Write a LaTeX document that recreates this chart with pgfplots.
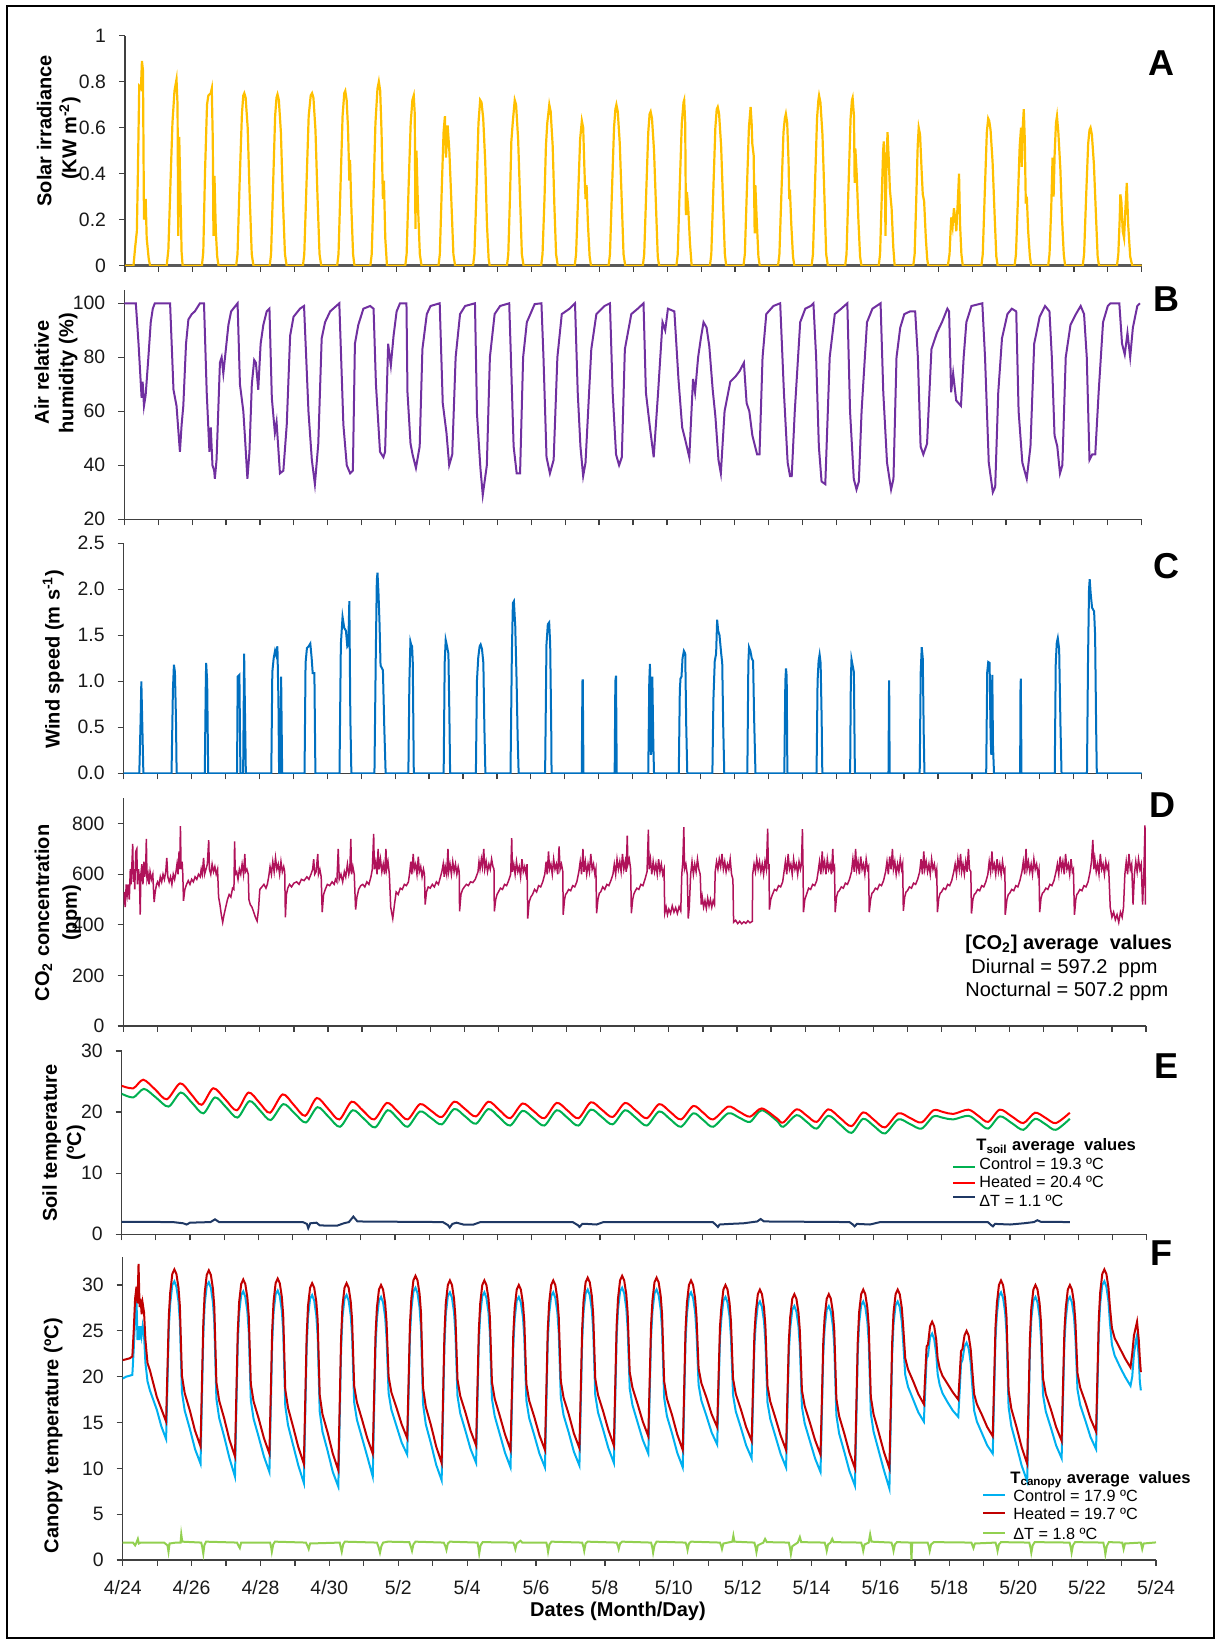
\documentclass[border=0pt]{standalone}
\usepackage{fontspec}
\setmainfont{Liberation Sans}
\usepackage{pgfplots}
\usepackage{pgfplotstable}
\pgfplotsset{compat=1.18}

\definecolor{solar}{RGB}{255,192,0}
\definecolor{rh}{RGB}{112,48,160}
\definecolor{wind}{RGB}{0,112,192}
\definecolor{cotwo}{RGB}{176,18,90}
\definecolor{ctrlsoil}{RGB}{0,176,80}
\definecolor{heatsoil}{RGB}{255,0,0}
\definecolor{dtsoil}{RGB}{31,56,100}
\definecolor{ctrlcan}{RGB}{0,176,240}
\definecolor{heatcan}{RGB}{192,0,0}
\definecolor{dtcan}{RGB}{146,208,80}

\newcommand\ticks{\fontsize{9.7}{11}\selectfont}
\newcommand\lab{\fontsize{10}{12}\selectfont\bfseries}
\newcommand\letter{\fontsize{18}{20}\selectfont\bfseries}

\pgfplotsset{
  panel/.style={
    scale only axis,
    anchor=south west,
    axis lines*=left,
    axis line style={black!75, line width=0.6pt},
    tick align=outside,
    tick style={black!75, line width=0.6pt},
    major tick length=3pt,
    minor tick length=3pt,
    xmin=0, xmax=30,
    xtick={0,1,...,30},
    xticklabels={},
    yticklabel style={font=\ticks, text=black!90, xshift=-3pt},
    xticklabel style={font=\ticks, text=black!90, yshift=-3.5pt},
    /pgf/number format/assume math mode=true,
  }
}

% canopy temperature, heated and control plots (deg C), time in days from 4/24
\pgfplotstableread{
x heated control
0.00 21.8 19.8
0.10 21.9 20.0
0.20 22.0 20.1
0.28 22.2 20.2
0.32 25.0 23.0
0.36 28.5 26.5
0.40 29.8 28.4
0.43 28.0 24.0
0.46 32.3 25.5
0.49 27.6 24.0
0.52 28.5 25.5
0.55 26.8 24.5
0.58 28.0 25.5
0.62 27.0 24.5
0.66 24.0 21.5
0.72 21.5 19.5
0.79 20.7 18.5
0.99 17.8 16.4
1.12 16.5 14.6
1.26 15.1 13.2
1.30 20.9 19.3
1.34 26.7 25.4
1.38 29.2 28.0
1.44 31.2 30.0
1.50 31.7 30.4
1.56 31.2 29.8
1.62 29.7 28.2
1.66 27.7 26.0
1.72 20.1 18.3
1.80 18.2 16.3
1.95 16.3 14.3
2.10 14.1 12.1
2.26 12.4 10.5
2.30 19.1 17.5
2.34 25.8 24.5
2.38 29.1 27.9
2.44 31.1 29.9
2.50 31.6 30.3
2.56 31.1 29.7
2.62 29.6 28.1
2.66 27.6 25.9
2.72 19.4 17.6
2.80 17.4 15.5
2.95 15.4 13.4
3.10 13.1 11.1
3.26 11.3 9.1
3.30 18.1 16.5
3.34 24.8 23.5
3.38 28.1 26.9
3.44 30.1 28.9
3.50 30.6 29.3
3.56 30.1 28.7
3.62 28.6 27.1
3.66 26.6 24.9
3.72 19.2 17.4
3.80 17.3 15.4
3.95 15.4 13.4
4.10 13.3 11.3
4.26 11.6 9.6
4.30 18.3 16.7
4.34 25.0 23.7
4.38 28.2 27.0
4.44 30.2 29.0
4.50 30.7 29.4
4.56 30.2 28.8
4.62 28.7 27.2
4.66 26.7 25.0
4.72 18.6 16.8
4.80 16.6 14.7
4.95 14.5 12.5
5.10 12.3 10.3
5.26 10.5 8.4
5.30 17.4 15.8
5.34 24.3 23.0
5.38 27.7 26.5
5.44 29.7 28.5
5.50 30.2 28.9
5.56 29.7 28.3
5.62 28.2 26.7
5.66 26.2 24.5
5.72 18.0 16.2
5.80 15.9 14.0
5.95 13.9 11.9
6.10 11.6 9.6
6.26 9.8 8.0
6.30 16.9 15.3
6.34 24.1 22.8
6.38 27.7 26.5
6.44 29.7 28.5
6.50 30.2 28.9
6.56 29.7 28.3
6.62 28.2 26.7
6.66 26.2 24.5
6.72 19.0 17.2
6.80 17.2 15.3
6.95 15.3 13.3
7.10 13.3 11.3
7.26 11.6 9.1
7.30 18.0 16.4
7.34 24.5 23.2
7.38 27.5 26.3
7.44 29.5 28.3
7.50 30.0 28.7
7.56 29.5 28.1
7.62 28.0 26.5
7.66 26.0 24.3
7.72 20.0 18.2
7.80 18.3 16.4
7.95 16.6 14.6
8.10 14.8 12.8
8.26 13.3 11.5
8.30 19.5 17.9
8.34 25.7 24.4
8.38 28.5 27.3
8.44 30.5 29.3
8.50 31.0 29.7
8.56 30.5 29.1
8.62 29.0 27.5
8.66 27.0 25.3
8.72 18.8 17.0
8.80 16.7 14.8
8.95 14.7 12.7
9.10 12.4 10.4
9.26 10.6 8.7
9.30 17.6 16.0
9.34 24.5 23.2
9.38 28.0 26.8
9.44 30.0 28.8
9.50 30.5 29.2
9.56 30.0 28.6
9.62 28.5 27.0
9.66 26.5 24.8
9.72 19.7 17.9
9.80 17.9 16.0
9.95 16.1 14.1
10.10 14.1 12.1
10.26 12.5 10.6
10.30 18.8 17.2
10.34 25.1 23.8
10.38 28.0 26.8
10.44 30.0 28.8
10.50 30.5 29.2
10.56 30.0 28.6
10.62 28.5 27.0
10.66 26.5 24.8
10.72 19.4 17.6
10.80 17.6 15.7
10.95 15.7 13.7
11.10 13.7 11.7
11.26 12.0 10.1
11.30 18.3 16.7
11.34 24.6 23.3
11.38 27.5 26.3
11.44 29.5 28.3
11.50 30.0 28.7
11.56 29.5 28.1
11.62 28.0 26.5
11.66 26.0 24.3
11.72 19.2 17.4
11.80 17.4 15.5
11.95 15.6 13.6
12.10 13.6 11.6
12.26 12.0 10.1
12.30 18.5 16.9
12.34 25.0 23.7
12.38 28.0 26.8
12.44 30.0 28.8
12.50 30.5 29.2
12.56 30.0 28.6
12.62 28.5 27.0
12.66 26.5 24.8
12.72 19.5 17.7
12.80 17.7 15.8
12.95 15.9 13.9
13.10 13.8 11.8
13.26 12.2 10.3
13.30 18.7 17.1
13.34 25.2 23.9
13.38 28.3 27.1
13.44 30.3 29.1
13.50 30.8 29.5
13.56 30.3 28.9
13.62 28.8 27.3
13.66 26.8 25.1
13.72 19.8 18.0
13.80 18.0 16.1
13.95 16.2 14.2
14.10 14.2 12.2
14.26 12.5 10.6
14.30 19.0 17.4
14.34 25.5 24.2
14.38 28.5 27.3
14.44 30.5 29.3
14.50 31.0 29.7
14.56 30.5 29.1
14.62 29.0 27.5
14.66 27.0 25.3
14.72 20.5 18.7
14.80 18.8 16.9
14.95 17.0 15.0
15.10 15.1 13.1
15.26 13.5 11.6
15.30 19.6 18.0
15.34 25.6 24.3
15.38 28.3 27.1
15.44 30.3 29.1
15.50 30.8 29.5
15.56 30.3 28.9
15.62 28.8 27.3
15.66 26.8 25.1
15.72 19.5 17.7
15.80 17.6 15.7
15.95 15.8 13.8
16.10 13.7 11.7
16.26 12.0 10.1
16.30 18.5 16.9
16.34 25.0 23.7
16.38 28.0 26.8
16.44 30.0 28.8
16.50 30.5 29.2
16.56 30.0 28.6
16.62 28.5 27.0
16.66 26.5 24.8
16.72 20.9 19.1
16.80 19.3 17.4
16.95 17.7 15.7
17.10 15.9 13.9
17.26 14.5 12.6
17.30 19.9 18.3
17.34 25.4 24.1
17.38 27.5 26.3
17.44 29.5 28.3
17.50 30.0 28.7
17.56 29.5 28.1
17.62 28.0 26.5
17.66 26.0 24.3
17.72 19.8 18.0
17.80 18.1 16.2
17.95 16.4 14.4
18.10 14.5 12.5
18.26 13.0 11.1
18.30 18.8 17.2
18.34 24.6 23.3
18.38 27.0 25.8
18.44 29.0 27.8
18.50 29.5 28.2
18.56 29.0 27.6
18.62 27.5 26.0
18.66 25.5 23.8
18.72 19.0 17.2
18.80 17.3 15.4
18.95 15.5 13.5
19.10 13.6 11.6
19.26 12.0 10.1
19.30 18.0 16.4
19.34 23.9 22.6
19.38 26.5 25.3
19.44 28.5 27.3
19.50 29.0 27.7
19.56 28.5 27.1
19.62 27.0 25.5
19.66 25.0 23.3
19.72 18.5 16.7
19.80 16.8 14.9
19.95 15.0 13.0
20.10 13.1 11.1
20.26 11.5 9.6
20.30 17.6 16.0
20.34 23.8 22.5
20.38 26.5 25.3
20.44 28.5 27.3
20.50 29.0 27.7
20.56 28.5 27.1
20.62 27.0 25.5
20.66 25.0 23.3
20.72 17.6 15.8
20.80 15.7 13.8
20.95 13.8 11.8
21.10 11.7 9.7
21.26 10.0 8.1
21.30 16.8 15.2
21.34 23.7 22.4
21.38 27.0 25.8
21.44 29.0 27.8
21.50 29.5 28.2
21.56 29.0 27.6
21.62 27.5 26.0
21.66 25.5 23.8
21.72 17.8 16.0
21.80 15.9 14.0
21.95 13.9 11.9
22.10 11.8 9.8
22.26 10.0 7.8
22.30 16.8 15.2
22.34 23.7 22.4
22.38 27.0 25.8
22.44 29.0 27.8
22.50 29.5 28.2
22.56 29.0 27.6
22.62 27.5 26.0
22.66 25.5 23.8
22.72 22.0 20.2
22.80 20.8 18.9
22.95 19.5 17.5
23.10 18.1 16.1
23.26 17.0 15.1
23.30 20.2 18.6
23.34 23.3 22.0
23.38 23.5 22.3
23.44 25.5 24.3
23.50 26.0 24.7
23.56 25.5 24.1
23.62 24.0 22.5
23.66 22.0 20.3
23.72 20.9 19.1
23.80 20.1 18.2
23.95 19.2 17.2
24.10 18.3 16.3
24.26 17.5 15.6
24.30 20.1 18.5
24.34 22.8 21.5
24.38 23.0 21.8
24.44 24.5 23.3
24.50 25.0 23.7
24.56 24.5 23.1
24.62 23.0 21.5
24.66 21.0 19.3
24.72 18.1 16.3
24.80 17.0 15.1
24.95 15.8 13.8
25.10 14.5 12.5
25.26 13.5 11.6
25.30 19.5 17.9
25.34 25.4 24.1
25.38 28.0 26.8
25.44 30.0 28.8
25.50 30.5 29.2
25.56 30.0 28.6
25.62 28.5 27.0
25.66 26.5 24.8
25.72 18.5 16.7
25.80 16.5 14.6
25.95 14.5 12.5
26.10 12.3 10.3
26.26 10.5 8.6
26.30 17.3 15.7
26.34 24.2 22.9
26.38 27.5 26.3
26.44 29.5 28.3
26.50 30.0 28.7
26.56 29.5 28.1
26.62 28.0 26.5
26.66 26.0 24.3
26.72 19.8 18.0
26.80 18.1 16.2
26.95 16.4 14.4
27.10 14.5 12.5
27.26 13.0 11.1
27.30 19.0 17.4
27.34 24.9 23.6
27.38 27.5 26.3
27.44 29.5 28.3
27.50 30.0 28.7
27.56 29.5 28.1
27.62 28.0 26.5
27.66 26.0 24.3
27.72 20.4 18.6
27.80 18.8 16.9
27.95 17.2 15.2
28.10 15.4 13.4
28.26 14.0 12.1
28.30 20.2 18.6
28.34 26.4 25.1
28.38 29.2 28.0
28.44 31.2 30.0
28.50 31.7 30.4
28.56 31.2 29.8
28.62 29.7 28.2
28.66 27.7 26.0
28.72 25.3 23.5
28.80 24.2 22.3
28.95 23.1 21.1
29.10 22.0 20.0
29.26 21.0 19.0
29.31 22.5 20.0
29.36 24.5 22.5
29.42 25.5 24.0
29.45 26.0 24.5
29.50 24.0 22.0
29.53 22.0 19.5
29.56 20.5 18.5
}\canopy

\begin{document}
\begin{tikzpicture}[x=1pt,y=1pt]
\path[use as bounding box] (0,0) rectangle (610,821.5);
\draw[line width=1pt] (3.65,818.65) rectangle (607,2.5);

% ---------------- A: solar irradiance
\begin{axis}[panel, at={(62.5pt,688.65pt)}, width=508.35pt, height=115pt,
  ymin=0, ymax=1, ytick={0,0.2,0.4,0.6,0.8,1},
  x axis line style={black!65, line width=1.3pt}]
\addplot[solar, line width=1.1pt] coordinates {
(0,0)(0.25,0)(0.30,0.08)(0.35,0.15)(0.38,0.40)(0.42,0.78)(0.47,0.77)(0.50,0.89)(0.53,0.85)(0.56,0.20)(0.61,0.29)(0.64,0.12)(0.70,0.03)(0.74,0)
(1.23,0)(1.28,0.07)(1.34,0.35)(1.40,0.62)(1.46,0.76)(1.52,0.81)(1.55,0.70)(1.57,0.13)(1.60,0.56)(1.63,0.35)(1.67,0.06)(1.70,0)
(2.27,0)(2.31,0.06)(2.36,0.40)(2.42,0.70)(2.46,0.74)(2.53,0.75)(2.56,0.77)(2.59,0.55)(2.61,0.13)(2.64,0.39)(2.68,0.15)(2.72,0.04)(2.76,0)
(3.28,0)(3.32,0.05)(3.38,0.35)(3.45,0.66)(3.49,0.74)(3.52,0.75)(3.56,0.73)(3.62,0.60)(3.68,0.30)(3.74,0.05)(3.79,0)
(4.27,0)(4.31,0.05)(4.37,0.35)(4.43,0.65)(4.47,0.73)(4.50,0.745)(4.54,0.72)(4.60,0.58)(4.66,0.28)(4.72,0.05)(4.77,0)
(5.25,0)(5.29,0.05)(5.35,0.33)(5.42,0.65)(5.48,0.74)(5.52,0.75)(5.56,0.73)(5.62,0.59)(5.68,0.30)(5.74,0.05)(5.79,0)
(6.26,0)(6.30,0.05)(6.36,0.35)(6.42,0.65)(6.47,0.75)(6.50,0.76)(6.54,0.72)(6.58,0.60)(6.62,0.37)(6.64,0.46)(6.68,0.25)(6.73,0.05)(6.77,0)
(7.24,0)(7.28,0.05)(7.33,0.30)(7.39,0.62)(7.45,0.77)(7.49,0.80)(7.53,0.76)(7.57,0.58)(7.61,0.29)(7.64,0.37)(7.68,0.12)(7.73,0)
(8.27,0)(8.31,0.05)(8.37,0.35)(8.43,0.62)(8.48,0.72)(8.52,0.74)(8.55,0.66)(8.57,0.16)(8.60,0.50)(8.64,0.28)(8.70,0.05)(8.75,0)
(9.25,0)(9.29,0.05)(9.35,0.35)(9.40,0.58)(9.44,0.65)(9.47,0.47)(9.52,0.61)(9.57,0.50)(9.63,0.28)(9.69,0.05)(9.74,0)
(10.27,0)(10.31,0.05)(10.37,0.32)(10.43,0.62)(10.48,0.72)(10.52,0.71)(10.57,0.64)(10.63,0.45)(10.68,0.18)(10.73,0.03)(10.76,0)
(11.27,0)(11.31,0.05)(11.36,0.30)(11.40,0.54)(11.44,0.62)(11.50,0.72)(11.54,0.70)(11.60,0.55)(11.66,0.28)(11.71,0.05)(11.76,0)
(12.28,0)(12.32,0.05)(12.38,0.30)(12.42,0.52)(12.46,0.62)(12.52,0.70)(12.56,0.67)(12.62,0.52)(12.67,0.26)(12.72,0.05)(12.77,0)
(13.27,0)(13.31,0.05)(13.37,0.30)(13.43,0.55)(13.48,0.63)(13.52,0.60)(13.55,0.45)(13.57,0.36)(13.59,0.29)(13.62,0.35)(13.66,0.18)(13.71,0.04)(13.75,0)
(14.27,0)(14.31,0.05)(14.37,0.33)(14.43,0.60)(14.47,0.68)(14.50,0.70)(14.54,0.67)(14.60,0.53)(14.66,0.27)(14.71,0.05)(14.76,0)
(15.28,0)(15.32,0.05)(15.38,0.32)(15.44,0.58)(15.48,0.66)(15.51,0.67)(15.55,0.64)(15.61,0.50)(15.67,0.25)(15.72,0.04)(15.76,0)
(16.27,0)(16.31,0.05)(16.37,0.35)(16.43,0.62)(16.48,0.71)(16.50,0.72)(16.53,0.62)(16.55,0.22)(16.58,0.32)(16.62,0.25)(16.67,0.10)(16.72,0)
(17.26,0)(17.30,0.05)(17.36,0.33)(17.42,0.60)(17.46,0.68)(17.49,0.69)(17.53,0.66)(17.59,0.52)(17.65,0.26)(17.70,0.05)(17.74,0)
(18.25,0)(18.29,0.05)(18.35,0.33)(18.41,0.60)(18.46,0.69)(18.49,0.62)(18.51,0.53)(18.55,0.48)(18.58,0.14)(18.60,0.35)(18.64,0.20)(18.69,0.04)(18.73,0)
(19.27,0)(19.31,0.05)(19.37,0.32)(19.43,0.58)(19.47,0.64)(19.50,0.66)(19.54,0.62)(19.58,0.45)(19.60,0.29)(19.62,0.33)(19.66,0.18)(19.71,0.04)(19.75,0)
(20.26,0)(20.30,0.05)(20.36,0.35)(20.42,0.64)(20.46,0.72)(20.48,0.74)(20.52,0.71)(20.58,0.57)(20.64,0.29)(20.69,0.05)(20.74,0)
(21.25,0)(21.29,0.05)(21.35,0.35)(21.41,0.64)(21.45,0.72)(21.47,0.73)(21.51,0.65)(21.53,0.36)(21.55,0.51)(21.59,0.40)(21.64,0.20)(21.69,0.04)(21.73,0)
(22.24,0)(22.28,0.05)(22.33,0.30)(22.37,0.50)(22.39,0.54)(22.42,0.40)(22.44,0.13)(22.47,0.45)(22.50,0.58)(22.54,0.45)(22.57,0.33)(22.62,0.25)(22.67,0.08)(22.71,0)
(23.26,0)(23.30,0.05)(23.35,0.30)(23.39,0.52)(23.42,0.60)(23.46,0.57)(23.51,0.40)(23.54,0.31)(23.58,0.28)(23.63,0.12)(23.67,0.03)(23.70,0)
(24.28,0)(24.33,0.05)(24.36,0.15)(24.38,0.21)(24.42,0.17)(24.46,0.25)(24.50,0.20)(24.53,0.15)(24.58,0.30)(24.61,0.40)(24.64,0.18)(24.68,0.05)(24.72,0)
(25.27,0)(25.31,0.05)(25.37,0.32)(25.43,0.58)(25.47,0.64)(25.50,0.63)(25.54,0.59)(25.60,0.45)(25.66,0.22)(25.71,0.04)(25.75,0)
(26.25,0)(26.29,0.05)(26.35,0.30)(26.40,0.52)(26.44,0.60)(26.46,0.43)(26.49,0.60)(26.52,0.68)(26.55,0.55)(26.58,0.27)(26.61,0.30)(26.65,0.15)(26.70,0.04)(26.74,0)
(27.24,0)(27.28,0.05)(27.33,0.25)(27.37,0.47)(27.40,0.30)(27.43,0.48)(27.47,0.62)(27.50,0.65)(27.54,0.58)(27.60,0.42)(27.65,0.20)(27.70,0.05)(27.74,0)
(28.26,0)(28.30,0.05)(28.36,0.30)(28.42,0.53)(28.46,0.59)(28.49,0.60)(28.53,0.57)(28.59,0.44)(28.65,0.22)(28.70,0.04)(28.74,0)
(29.27,0)(29.31,0.05)(29.35,0.20)(29.37,0.31)(29.40,0.28)(29.44,0.15)(29.48,0.12)(29.52,0.25)(29.56,0.36)(29.60,0.18)(29.66,0.04)(29.72,0)(30,0)
};
\end{axis}

% ---------------- B: air relative humidity
\begin{axis}[panel, at={(62.15pt,561.85pt)}, width=508.7pt, height=114.75pt,
  ymin=20, ymax=105, ytick={20,40,60,80,100}]
\addplot[rh, line width=1pt] coordinates {
(0,100)(0.34,100)(0.42,85)(0.51,65)(0.54,71)(0.58,62)(0.63,66)(0.71,80)(0.78,93)(0.84,98)(0.90,100)(1.35,100)
(1.45,68)(1.54,62)(1.64,45)(1.69,55)(1.74,62)(1.82,85)(1.89,94)(1.99,96)(2.08,97)(2.18,99)(2.23,100)(2.35,100)
(2.43,67)(2.51,45)(2.55,54)(2.60,40)(2.65,38)(2.67,35)(2.72,42)(2.77,60)(2.82,78)(2.87,80)(2.92,74)(2.97,80)(3.07,92)(3.15,97)(3.34,100)
(3.41,70)(3.51,60)(3.56,50)(3.63,35)(3.69,45)(3.76,70)(3.83,79)(3.88,78)(3.95,68)(4.02,85)(4.10,92)(4.20,97)(4.28,98)
(4.35,65)(4.44,52)(4.49,56)(4.59,37)(4.69,38)(4.79,55)(4.89,88)(4.99,95)(5.18,98)(5.30,99)
(5.43,60)(5.53,42)(5.62,33)(5.72,48)(5.82,87)(5.92,93)(6.07,97)(6.34,100)
(6.46,55)(6.56,40)(6.66,37)(6.74,38)(6.80,85)(6.90,92)(7.05,98)(7.25,99)(7.35,98)
(7.42,70)(7.54,45)(7.64,43)(7.69,45)(7.78,85)(7.86,77)(7.94,88)(8.03,97)(8.13,100)(8.32,100)
(8.35,67)(8.44,48)(8.50,44)(8.60,39)(8.71,47)(8.79,83)(8.92,96)(9.03,99)(9.30,100)
(9.39,63)(9.50,52)(9.58,40)(9.67,44)(9.77,80)(9.90,96)(10.05,99)(10.34,100)
(10.40,59)(10.50,39)(10.57,29)(10.69,40)(10.78,80)(10.92,96)(11.08,99)(11.35,100)
(11.40,80)(11.48,47)(11.57,37)(11.67,37)(11.76,80)(11.87,93)(12.10,99.7)(12.30,100)
(12.36,80)(12.45,43)(12.55,37)(12.66,42)(12.77,80)(12.90,96)(13.13,98)(13.29,100)
(13.37,67)(13.45,47)(13.53,36)(13.60,41)(13.77,83)(13.92,96)(14.16,99)(14.32,100)
(14.40,67)(14.50,44)(14.59,40)(14.67,43)(14.76,83)(14.95,96)(15.14,98)(15.31,100)
(15.38,67)(15.50,54)(15.61,43)(15.74,67)(15.87,93)(15.95,90)(16.03,98)(16.22,97)
(16.34,72)(16.45,54)(16.53,50)(16.66,43)(16.77,72)(16.83,67)(16.92,80)(17.00,87)(17.08,93)(17.17,91)(17.25,84)
(17.35,68)(17.43,58)(17.52,42)(17.59,37)(17.70,60)(17.87,71)(18.03,73)(18.15,75)(18.27,78)
(18.35,63)(18.43,60)(18.52,51)(18.66,44)(18.73,44)(18.82,80)(18.93,96)(19.14,99)(19.34,100)
(19.45,67)(19.56,41)(19.63,36)(19.68,36)(19.77,60)(19.93,93)(20.08,98)(20.24,99)(20.32,100)
(20.40,80)(20.48,47)(20.56,34)(20.67,33)(20.80,80)(20.95,96)(21.14,98)(21.32,100)
(21.40,60)(21.51,35)(21.59,31)(21.66,34)(21.74,60)(21.90,93)(22.06,98)(22.30,100)
(22.38,67)(22.49,41)(22.61,31)(22.68,35)(22.77,80)(22.88,91)(23.00,96)(23.17,97)(23.32,97)
(23.40,80)(23.48,47)(23.56,44)(23.67,48)(23.80,83)(23.96,89)(24.11,93)(24.27,98)(24.32,97)
(24.38,67)(24.44,74)(24.53,64)(24.67,62)(24.75,80)(24.83,93)(24.98,99)(25.30,100)
(25.38,80)(25.49,41)(25.61,30)(25.68,32)(25.77,67)(25.88,87)(26.04,96)(26.17,98)(26.30,97)
(26.37,60)(26.48,41)(26.61,35)(26.72,47)(26.83,85)(26.99,95)(27.15,99)(27.28,97)
(27.35,80)(27.43,51)(27.51,47)(27.59,37)(27.66,40)(27.76,80)(27.90,92)(28.06,96)(28.20,99)(28.30,96)
(28.38,80)(28.46,42)(28.54,44)(28.63,44)(28.73,67)(28.86,93)(29.00,99)(29.08,100)(29.34,100)
(29.42,85)(29.50,81)(29.58,89)(29.66,80)(29.74,91)(29.87,99)(29.95,100)
};
\end{axis}

% ---------------- C: wind speed
\begin{axis}[panel, at={(61.85pt,434.85pt)}, width=508.95pt, height=115pt,
  ymin=0, ymax=2.5, ytick={0,0.5,1,1.5,2,2.5},
  yticklabel style={/pgf/number format/.cd, fixed, fixed zerofill, precision=1}]
\addplot[wind, line width=1pt] coordinates {
(0,0)(0.46,0)(0.50,0.6)(0.52,1.0)(0.55,0.5)(0.58,0)
(1.41,0)(1.45,0.9)(1.48,1.18)(1.51,1.1)(1.54,0.6)(1.56,0)
(2.39,0)(2.42,1.0)(2.43,1.20)(2.46,1.0)(2.49,0)
(3.34,0)(3.36,1.05)(3.41,1.07)(3.44,0)(3.52,0)(3.55,1.30)(3.60,0)
(4.35,0)(4.38,1.1)(4.42,1.25)(4.46,1.33)(4.49,1.29)(4.53,1.38)(4.56,0.8)(4.58,0)(4.62,0)(4.64,1.05)(4.67,0)
(5.33,0)(5.36,1.2)(5.40,1.36)(5.45,1.38)(5.50,1.41)(5.54,1.25)(5.57,1.09)(5.62,1.09)(5.65,0)
(6.36,0)(6.40,1.4)(6.45,1.70)(6.50,1.58)(6.55,1.55)(6.59,1.38)(6.62,1.40)(6.65,1.87)(6.68,0.6)(6.71,0)
(7.39,0)(7.43,1.3)(7.46,2.10)(7.48,2.18)(7.51,1.95)(7.54,1.63)(7.57,1.17)(7.60,1.15)(7.64,1.12)(7.68,0.5)(7.72,0)
(8.39,0)(8.42,1.0)(8.45,1.43)(8.47,1.40)(8.50,1.38)(8.52,1.2)(8.55,0)
(9.43,0)(9.46,1.2)(9.49,1.45)(9.53,1.38)(9.57,1.30)(9.60,0.6)(9.62,0)
(10.38,0)(10.41,1.0)(10.45,1.26)(10.49,1.38)(10.52,1.40)(10.56,1.35)(10.60,1.2)(10.63,0.5)(10.66,0)
(11.40,0)(11.44,1.3)(11.47,1.85)(11.50,1.87)(11.54,1.6)(11.58,1.0)(11.61,0.4)(11.64,0)
(12.42,0)(12.46,1.4)(12.50,1.62)(12.54,1.64)(12.57,1.4)(12.60,0.5)(12.61,0)
(13.50,0)(13.52,1.0)(13.53,1.02)(13.55,0)
(14.47,0)(14.49,1.0)(14.51,1.06)(14.53,0)
(15.46,0)(15.49,1.0)(15.51,1.19)(15.54,0.2)(15.56,0.5)(15.58,1.05)(15.61,0.3)(15.63,0)
(16.36,0)(16.39,0.9)(16.41,1.03)(16.44,1.05)(16.47,1.25)(16.51,1.33)(16.55,1.3)(16.58,0.5)(16.61,0)
(17.35,0)(17.38,0.8)(17.42,1.22)(17.46,1.30)(17.49,1.67)(17.52,1.55)(17.56,1.50)(17.61,1.30)(17.64,1.20)(17.67,0.5)(17.70,0)
(18.38,0)(18.41,1.2)(18.43,1.37)(18.47,1.33)(18.51,1.25)(18.55,1.22)(18.58,0.6)(18.62,0)
(19.47,0)(19.50,1.0)(19.52,1.14)(19.54,1.05)(19.56,0)
(20.42,0)(20.45,1.0)(20.48,1.22)(20.51,1.29)(20.54,1.2)(20.57,0.6)(20.59,0)
(21.41,0)(21.43,1.0)(21.45,1.24)(21.48,1.18)(21.52,1.10)(21.55,0)
(22.54,0)(22.555,0.9)(22.56,1.01)(22.575,0)
(23.46,0)(23.49,1.1)(23.52,1.37)(23.55,1.25)(23.58,0.4)(23.60,0)
(25.42,0)(25.45,1.1)(25.48,1.21)(25.52,1.20)(25.55,0.4)(25.57,0.2)(25.60,1.07)(25.62,0.3)(25.65,0)
(26.42,0)(26.43,0.9)(26.44,1.03)(26.46,0)
(27.44,0)(27.47,1.2)(27.50,1.42)(27.53,1.47)(27.57,1.35)(27.61,0.5)(27.64,0)
(28.39,0)(28.42,1.2)(28.45,2.0)(28.47,2.11)(28.50,1.95)(28.54,1.80)(28.60,1.76)(28.63,1.5)(28.66,0.5)(28.68,0)(30,0)
};
\end{axis}

% ---------------- D: CO2 concentration
\begin{axis}[panel, at={(61.75pt,308.5pt)}, width=511.25pt, height=113.8pt,
  ymin=0, ymax=900, ytick={0,200,400,600,800}]
\addplot[cotwo, line width=0.75pt] coordinates {
(0.00,480)(0.03,530)(0.05,470)(0.08,560)(0.11,520)(0.14,560)(0.17,500)(0.20,620)(0.22,560)(0.25,650)(0.27,720)(0.29,570)(0.31,620)(0.33,540)(0.36,690)(0.39,700)(0.41,560)(0.44,620)(0.47,580)(0.49,440)(0.51,600)(0.54,640)(0.57,560)(0.60,650)(0.62,590)(0.65,620)(0.67,740)(0.69,580)(0.72,600)(0.75,560)(0.78,610)(0.82,580)(0.86,600)
(0.88,540)(0.90,490)(0.93,530)(0.97,560)(1.00,570)(1.04,555)(1.08,590)(1.12,570)(1.16,600)(1.20,580)(1.24,610)(1.27,665)(1.30,590)(1.34,570)(1.38,590)(1.42,560)(1.46,600)(1.50,580)(1.54,610)(1.57,640)(1.60,600)(1.63,690)(1.65,620)(1.67,790)(1.69,620)(1.72,650)(1.74,600)
(1.76,495)(1.80,540)(1.85,560)(1.90,575)(1.95,560)(2.00,580)(2.05,570)(2.10,590)(2.15,580)(2.20,600)(2.25,590)(2.28,620)(2.31,600)(2.35,665)(2.38,600)(2.42,620)(2.46,640)(2.50,735)(2.52,620)(2.56,600)(2.60,640)(2.64,610)(2.68,630)(2.72,600)(2.76,620)
(2.79,510)(2.83,480)(2.87,440)(2.91,410)(2.95,440)(3.00,470)(3.05,500)(3.10,520)(3.15,510)(3.20,545)(3.24,540)(3.26,730)(3.28,600)(3.32,610)(3.36,580)(3.40,620)(3.44,600)(3.48,640)(3.52,600)(3.56,680)(3.58,610)(3.62,620)(3.66,600)
(3.68,500)(3.72,480)(3.77,470)(3.82,450)(3.87,430)(3.92,415)(3.96,460)(4.00,540)(4.06,550)(4.12,560)(4.18,545)(4.22,560)(4.26,590)(4.30,630)(4.34,600)(4.38,650)(4.42,610)(4.46,665)(4.50,620)(4.54,640)(4.58,600)(4.62,650)(4.66,610)(4.70,630)(4.73,610)
(4.75,430)(4.78,520)(4.82,545)(4.87,560)(4.93,550)(5.00,565)(5.08,570)(5.15,560)(5.22,580)(5.30,575)(5.38,590)(5.44,580)(5.50,600)(5.55,620)(5.58,660)(5.61,600)(5.65,610)(5.70,680)(5.72,600)(5.76,620)(5.80,590)
(5.83,450)(5.87,520)(5.92,540)(5.98,560)(6.05,555)(6.12,570)(6.18,560)(6.22,580)(6.26,570)(6.30,700)(6.33,580)(6.38,600)(6.43,570)(6.48,610)(6.52,590)(6.57,640)(6.61,600)(6.64,620)(6.67,740)(6.69,600)(6.73,630)(6.77,600)
(6.81,460)(6.85,510)(6.90,540)(6.96,555)(7.02,560)(7.08,550)(7.14,570)(7.20,560)(7.26,590)(7.30,620)(7.34,760)(7.36,620)(7.40,650)(7.44,600)(7.47,700)(7.50,620)(7.54,660)(7.58,610)(7.62,640)(7.66,600)(7.70,700)(7.72,620)(7.76,650)(7.80,600)
(7.84,470)(7.90,425)(7.95,480)(8.00,530)(8.06,520)(8.12,545)(8.18,540)(8.24,560)(8.30,555)(8.36,570)
(8.40,610)(8.43,650)(8.46,600)(8.50,680)(8.53,620)(8.57,640)(8.61,600)(8.65,670)(8.68,610)(8.72,630)(8.76,590)(8.80,620)(8.83,600)(8.85,480)(8.89,530)(8.94,550)
(9.00,545)(9.06,560)(9.12,550)(9.18,570)(9.24,560)(9.30,590)(9.34,610)(9.38,640)(9.41,590)(9.44,630)(9.48,600)(9.52,700)(9.54,610)(9.58,640)(9.62,600)(9.66,650)(9.70,610)(9.74,640)(9.78,600)(9.82,630)(9.85,610)(9.86,453)(9.90,520)(9.95,540)
(10.00,550)(10.06,560)(10.12,555)(10.18,570)(10.25,567)(10.32,580)(10.40,609)(10.43,650)(10.46,620)(10.50,660)(10.53,630)(10.57,700)(10.60,620)(10.64,650)(10.68,610)(10.72,640)(10.76,620)(10.80,660)(10.84,630)(10.87,620)(10.88,453)(10.92,500)(10.96,520)
(11.00,530)(11.06,545)(11.12,540)(11.18,560)(11.24,555)(11.30,575)(11.36,600)(11.39,743)(11.41,610)(11.45,640)(11.49,600)(11.53,650)(11.57,610)(11.61,630)(11.65,590)(11.69,660)(11.73,610)(11.77,630)(11.81,600)(11.84,640)(11.86,425)(11.90,490)(11.95,510)
(12.00,520)(12.06,540)(12.12,530)(12.18,555)(12.24,550)(12.30,570)(12.36,600)(12.40,650)(12.43,600)(12.47,690)(12.50,620)(12.54,640)(12.58,600)(12.62,660)(12.66,620)(12.70,640)(12.74,600)(12.78,710)(12.81,620)(12.85,640)(12.89,610)(12.90,440)(12.94,500)(12.97,520)
(13.00,525)(13.06,540)(13.12,535)(13.18,555)(13.24,550)(13.30,570)(13.36,610)(13.40,650)(13.44,600)(13.48,700)(13.51,610)(13.55,650)(13.59,600)(13.63,640)(13.67,610)(13.71,680)(13.75,620)(13.79,640)(13.83,600)(13.86,620)(13.88,446)(13.92,500)(13.96,525)
(14.00,530)(14.06,550)(14.12,540)(14.18,560)(14.24,555)(14.30,575)(14.36,600)(14.40,640)(14.44,600)(14.48,660)(14.52,620)(14.56,650)(14.60,610)(14.64,680)(14.68,620)(14.72,650)(14.75,610)(14.78,753)(14.80,640)(14.84,660)(14.88,620)(14.90,446)(14.94,500)(14.97,520)
(15.00,530)(15.06,545)(15.12,540)(15.18,560)(15.24,555)(15.30,580)(15.36,610)(15.40,776)(15.42,620)(15.46,660)(15.50,600)(15.54,650)(15.58,610)(15.62,640)(15.66,600)(15.70,660)(15.74,610)(15.78,640)(15.82,600)(15.86,620)(15.88,446)(15.92,470)(15.96,440)(16.00,462)(16.05,445)(16.10,475)(16.15,450)(16.20,468)(16.25,445)(16.30,472)(16.35,455)
(16.38,600)(16.41,650)(16.44,786)(16.46,620)(16.50,640)(16.54,600)(16.57,425)(16.60,470)(16.64,600)(16.68,650)(16.72,600)(16.76,640)(16.80,610)(16.84,660)(16.88,620)(16.92,600)(16.95,480)(16.98,510)(17.02,470)(17.06,495)(17.10,465)(17.14,505)(17.18,475)(17.22,500)(17.26,470)(17.30,495)(17.34,480)
(17.36,610)(17.40,650)(17.44,620)(17.48,660)(17.52,630)(17.56,680)(17.60,620)(17.64,650)(17.68,610)(17.72,640)(17.76,620)(17.80,660)(17.84,600)(17.88,580)(17.90,410)(17.96,418)(18.02,405)(18.08,414)(18.14,404)(18.20,412)(18.26,406)(18.32,416)(18.38,408)(18.45,414)
(18.46,600)(18.50,640)(18.54,610)(18.58,660)(18.62,620)(18.66,650)(18.70,610)(18.74,640)(18.78,600)(18.82,650)(18.86,620)(18.90,780)(18.92,620)(18.94,640)(18.95,460)(18.99,500)
(19.04,520)(19.10,540)(19.16,535)(19.22,555)(19.28,550)(19.34,570)(19.38,610)(19.42,650)(19.46,600)(19.50,680)(19.54,620)(19.58,640)(19.62,600)(19.66,660)(19.70,620)(19.74,640)(19.78,600)(19.82,650)(19.86,620)(19.89,640)(19.92,778)(19.94,600)(19.95,450)(19.99,500)
(20.04,520)(20.10,545)(20.16,540)(20.22,560)(20.28,555)(20.34,575)(20.38,610)(20.42,650)(20.46,600)(20.50,690)(20.53,620)(20.57,650)(20.61,600)(20.65,660)(20.69,620)(20.73,640)(20.77,600)(20.81,700)(20.83,620)(20.86,630)(20.88,450)(20.92,510)(20.96,530)
(21.00,535)(21.06,550)(21.12,545)(21.18,565)(21.24,560)(21.30,580)(21.36,610)(21.40,660)(21.44,610)(21.48,700)(21.51,620)(21.55,650)(21.59,600)(21.63,670)(21.67,620)(21.71,640)(21.75,600)(21.79,660)(21.83,620)(21.86,630)(21.88,450)(21.92,500)(21.96,525)
(22.00,530)(22.06,545)(22.12,540)(22.18,560)(22.24,555)(22.30,575)(22.36,610)(22.40,650)(22.44,600)(22.48,670)(22.52,620)(22.56,700)(22.59,620)(22.63,650)(22.67,600)(22.71,640)(22.75,610)(22.79,660)(22.83,620)(22.86,640)(22.88,455)(22.92,510)(22.96,530)
(23.00,535)(23.06,550)(23.12,545)(23.18,565)(23.24,560)(23.30,580)(23.36,610)(23.40,660)(23.44,600)(23.48,690)(23.51,620)(23.55,650)(23.59,610)(23.63,640)(23.67,600)(23.71,660)(23.75,620)(23.79,640)(23.83,600)(23.86,620)(23.88,450)(23.92,505)(23.96,525)
(24.00,530)(24.06,545)(24.12,540)(24.18,560)(24.24,555)(24.30,575)(24.36,610)(24.40,640)(24.44,600)(24.48,660)(24.52,620)(24.56,680)(24.59,610)(24.63,640)(24.67,600)(24.71,650)(24.75,610)(24.79,700)(24.82,620)(24.86,610)(24.88,445)(24.92,500)(24.96,520)
(25.00,525)(25.06,540)(25.12,535)(25.18,555)(25.24,550)(25.30,570)(25.36,600)(25.40,650)(25.44,610)(25.48,690)(25.51,620)(25.55,640)(25.59,600)(25.63,660)(25.67,610)(25.71,640)(25.75,600)(25.79,650)(25.83,610)(25.86,620)(25.87,440)(25.92,500)(25.96,520)
(26.00,525)(26.06,540)(26.12,535)(26.18,555)(26.24,550)(26.30,575)(26.36,610)(26.40,650)(26.44,600)(26.48,700)(26.51,620)(26.55,650)(26.59,610)(26.63,640)(26.67,600)(26.71,660)(26.75,620)(26.79,640)(26.83,600)(26.86,620)(26.88,450)(26.92,505)(26.96,525)
(27.00,530)(27.06,545)(27.12,540)(27.18,560)(27.24,555)(27.30,575)(27.36,610)(27.40,640)(27.44,600)(27.48,670)(27.52,620)(27.56,650)(27.60,600)(27.64,680)(27.68,620)(27.72,640)(27.76,600)(27.80,660)(27.84,610)(27.87,620)(27.90,440)(27.94,500)(27.97,520)
(28.00,525)(28.06,540)(28.12,535)(28.18,555)(28.24,550)(28.30,570)(28.36,610)(28.40,650)(28.44,736)(28.47,620)(28.50,660)(28.54,610)(28.58,640)(28.62,600)(28.66,680)(28.70,620)(28.74,640)(28.78,600)(28.82,650)(28.86,620)(28.90,640)(28.95,470)(29.00,430)(29.05,450)(29.10,420)(29.15,440)(29.20,410)(29.25,450)(29.30,430)
(29.34,470)(29.38,600)(29.42,650)(29.46,600)(29.50,680)(29.54,620)(29.58,640)(29.62,480)(29.66,600)(29.70,650)(29.74,610)(29.78,660)(29.82,620)(29.86,640)(29.90,480)(29.94,620)(29.97,793)(29.98,480)(30.00,590)
};
\end{axis}

% ---------------- E: soil temperature
\begin{axis}[panel, at={(60.85pt,204.35pt)}, width=512.5pt, height=91.65pt,
  ymin=0, ymax=30, ytick={0,10,20,30}]
\addplot[ctrlsoil, line width=1pt, smooth, tension=0.5] coordinates {
(0,23.0)(0.34,22.4)(0.65,23.8)(1.01,22.35)(1.37,20.9)(1.73,23.2)(2.06,21.5)(2.39,19.8)(2.73,22.4)(3.06,20.75)(3.39,19.1)(3.74,21.8)(4.05,20.25)(4.36,18.7)(4.73,21.3)(5.06,19.8)(5.39,18.3)(5.73,20.8)(6.06,19.2)(6.39,17.6)(6.76,20.3)(7.09,18.9)(7.42,17.5)(7.78,20.3)(8.08,18.95)
(8.37,17.6)(8.73,20.1)(9.05,19.05)(9.37,18.0)(9.73,20.5)(10.05,19.3)(10.37,18.1)(10.73,20.5)(11.05,19.15)(11.37,17.8)(11.73,20.2)(12.05,19.0)(12.37,17.8)(12.73,20.3)(13.05,19.05)(13.37,17.8)(13.73,20.4)(14.05,19.2)(14.37,18.0)(14.73,20.3)(15.05,19.05)(15.37,17.8)(15.73,20.1)(16.05,18.85)(16.37,17.6)(16.73,19.8)(17.02,18.7)
(17.31,17.6)(17.75,19.8)(18.07,19.1)(18.39,18.4)(18.73,20.3)(19.17,18.6)(19.36,17.6)(19.75,19.5)(20.05,18.4)(20.34,17.3)(20.68,19.4)(21.02,18.0)(21.36,16.6)(21.70,18.9)(22.02,17.7)(22.34,16.5)(22.73,18.8)(23.07,18.05)(23.41,17.3)(23.76,19.3)(24.05,19.05)(24.34,18.8)(24.78,19.4)(25.07,18.35)(25.36,17.3)(25.70,19.3)(26.05,18.2)(26.39,17.1)(26.73,18.9)(27.04,18.0)(27.34,17.1)(27.75,18.9)
};
\addplot[heatsoil, line width=1pt, smooth, tension=0.5] coordinates {
(0,24.3)(0.34,23.9)(0.63,25.3)(0.98,23.7)(1.32,22.1)(1.71,24.7)(2.03,22.95)(2.34,21.2)(2.68,23.9)(3.03,22.1)(3.37,20.3)(3.71,23.2)(4.03,21.55)(4.34,19.9)(4.71,22.9)(5.04,21.15)(5.37,19.4)(5.71,22.3)(6.04,20.55)(6.37,18.8)(6.73,21.7)(7.06,20.25)(7.39,18.8)(7.76,21.5)(8.07,20.15)
(8.37,18.8)(8.73,21.3)(9.05,20.25)(9.37,19.2)(9.73,21.7)(10.05,20.5)(10.37,19.3)(10.73,21.7)(11.05,20.35)(11.37,19.0)(11.73,21.4)(12.05,20.2)(12.37,19.0)(12.73,21.5)(13.05,20.25)(13.37,19.0)(13.73,21.6)(14.05,20.4)(14.37,19.2)(14.73,21.5)(15.05,20.25)(15.37,19.0)(15.73,21.3)(16.05,20.05)(16.37,18.8)(16.73,21.0)(17.02,19.9)
(17.31,18.8)(17.75,20.9)(18.07,20.07)(18.39,19.25)(18.73,20.6)(19.17,19.0)(19.36,18.3)(19.75,20.45)(20.05,19.42)(20.34,18.4)(20.68,20.45)(21.02,19.07)(21.36,17.7)(21.70,19.95)(22.02,18.72)(22.34,17.5)(22.73,19.8)(23.07,19.05)(23.41,18.3)(23.76,20.3)(24.05,20.0)(24.34,19.7)(24.78,20.4)(25.07,19.4)(25.36,18.4)(25.70,20.4)(26.05,19.3)(26.39,18.2)(26.73,19.9)(27.04,19.05)(27.34,18.2)(27.75,19.9)
};
\addplot[dtsoil, line width=1pt] coordinates {
(0,2.05)(1.5,2.0)(1.8,1.8)(1.9,1.6)(2.0,1.9)(2.6,2.0)(2.73,2.45)(2.85,2.0)(5.3,2.0)(5.42,1.7)(5.46,1.0)(5.52,1.8)(5.7,1.9)(5.8,1.45)(6.3,1.4)(6.5,1.8)(6.65,2.0)(6.78,2.9)(6.9,2.1)
(9.4,2.0)(9.55,1.5)(9.6,1.1)(9.68,1.7)(9.8,1.9)(10.0,1.6)(10.3,1.6)(10.5,2.0)(13.2,2.0)(13.35,1.5)(13.4,1.2)(13.48,1.7)(13.6,1.7)(13.9,1.6)(14.1,2.0)
(17.3,2.0)(17.4,1.5)(17.45,1.2)(17.5,1.6)(17.8,1.7)(18.2,1.8)(18.6,2.1)(18.7,2.5)(18.8,2.1)(21.3,2.0)(21.4,1.6)(21.45,1.3)(21.52,1.7)(21.9,1.6)(22.2,2.0)
(25.35,2.0)(25.45,1.5)(25.5,1.3)(25.56,1.7)(26.0,1.6)(26.4,1.8)(26.7,2.0)(26.8,2.3)(26.9,2.05)(27.75,2.0)
};
\end{axis}

% ---------------- F: canopy temperature
\begin{axis}[panel, at={(61.35pt,41.5pt)}, width=516.65pt, height=151.25pt,
  ymin=0, ymax=33, ytick={0,5,10,15,20,25,30},
  xtick={0,2,...,30}, minor xtick={1,3,...,29},
  xticklabels={4/24,4/26,4/28,4/30,5/2,5/4,5/6,5/8,5/10,5/12,5/14,5/16,5/18,5/20,5/22,5/24}]
\addplot[ctrlcan, line width=1pt] table[x=x, y=control] {\canopy};
\addplot[heatcan, line width=1pt] table[x=x, y=heated] {\canopy};
\addplot[dtcan, line width=1pt] coordinates {
(0,1.9)(0.30,1.9)(0.36,1.6)(0.40,1.9)(0.44,2.3)(0.47,1.8)(0.52,1.9)(1.20,1.9)(1.30,1.6)(1.33,0.9)(1.36,1.8)(1.55,1.9)(1.68,1.9)(1.70,2.8)(1.73,2.0)
(2.28,1.9)(2.31,1.4)(2.34,0.7)(2.37,1.6)(2.42,2.0)(3.32,1.9)(3.37,1.5)(3.40,1.3)(3.44,1.9)(4.28,1.9)(4.31,1.4)(4.33,0.9)(4.37,1.7)(4.42,2.0)
(5.32,1.9)(5.37,1.5)(5.40,1.2)(5.44,1.8)(6.30,1.9)(6.33,1.4)(6.36,0.9)(6.40,1.7)(6.45,2.0)(7.38,1.9)(7.43,1.4)(7.47,0.8)(7.51,1.5)(7.56,1.9)(7.70,2.0)
(8.32,1.95)(8.37,1.4)(8.40,1.0)(8.44,1.7)(8.50,2.0)(9.32,1.9)(9.37,1.5)(9.40,1.1)(9.44,1.8)(9.50,2.0)
(10.30,1.9)(10.33,1.3)(10.35,0.7)(10.39,1.6)(10.45,1.95)(11.34,1.9)(11.38,1.5)(11.40,1.2)(11.44,1.8)(11.55,2.1)(11.60,1.9)
(12.30,1.9)(12.33,1.4)(12.35,0.9)(12.39,1.7)(12.45,2.0)(13.34,1.9)(13.38,1.4)(13.40,1.0)(13.44,1.8)(13.50,2.0)
(14.34,1.9)(14.38,1.5)(14.40,1.2)(14.44,1.8)(14.50,2.0)(15.34,1.9)(15.38,1.3)(15.40,0.8)(15.44,1.6)(15.50,2.0)
(16.34,1.9)(16.38,1.5)(16.40,1.1)(16.44,1.8)(16.50,2.0)(17.34,1.9)(17.38,1.5)(17.40,1.2)(17.44,1.8)(17.70,2.0)(17.73,2.65)(17.76,2.0)
(18.34,1.9)(18.38,1.3)(18.40,0.85)(18.44,1.6)(18.60,1.9)(18.65,2.3)(18.70,1.95)(19.34,1.9)(19.38,1.2)(19.40,0.65)(19.44,1.5)(19.60,1.9)(19.66,2.5)(19.70,1.95)
(20.38,1.9)(20.42,1.4)(20.44,1.0)(20.48,1.7)(20.55,1.9)(20.60,2.3)(20.64,1.95)(21.44,1.9)(21.48,1.4)(21.50,1.0)(21.54,1.7)(21.66,1.9)(21.70,2.8)(21.74,2.0)
(22.32,1.9)(22.36,1.4)(22.38,1.0)(22.42,1.7)(22.48,1.95)(22.88,1.9)(22.90,0.0)(22.92,1.9)(23.37,1.9)(23.41,1.4)(23.43,1.0)(23.47,1.7)(23.55,1.95)
(24.64,1.9)(24.68,1.5)(24.70,1.3)(24.74,1.8)(25.34,1.9)(25.38,1.4)(25.40,1.0)(25.44,1.7)(25.50,1.95)
(26.32,1.9)(26.36,1.3)(26.38,0.8)(26.42,1.6)(26.48,1.95)(27.49,1.9)(27.53,1.3)(27.55,0.8)(27.59,1.6)(27.65,1.95)
(28.47,1.9)(28.51,1.2)(28.53,0.65)(28.57,1.5)(28.63,1.95)(29.02,1.9)(29.05,1.4)(29.06,1.2)(29.10,1.8)(29.56,1.9)(29.60,1.2)(29.64,1.8)(30,1.92)
};
\end{axis}

% axis titles
\node[rotate=90, font=\lab] at (22.15,756.1) {Solar irradiance};
\node[rotate=90, font=\lab] at (35,752.35) {(KW m\textsuperscript{-2})};
\node[rotate=90, font=\lab] at (20.85,635.25) {Air relative};
\node[rotate=90, font=\lab] at (34.15,634.85) {humidity (\%)};
\node[rotate=90, font=\lab] at (26.65,492) {Wind speed (m s\textsuperscript{-1})};
\node[rotate=90, font=\lab] at (21.65,365) {CO\textsubscript{2} concentration};
\node[rotate=90, font=\lab] at (35.85,365) {(ppm)};
\node[rotate=90, font=\lab] at (25.85,250) {Soil temperature};
\node[rotate=90, font=\lab] at (38,250.25) {(ºC)};
\node[rotate=90, font=\lab] at (26.65,103.6) {Canopy temperature (ºC)};
\node[font=\lab] at (309,16) {Dates (Month/Day)};

% panel letters
\node[font=\letter] at (580.5,790) {A};
\node[font=\letter] at (583,672) {B};
\node[font=\letter] at (583,538.5) {C};
\node[font=\letter] at (581,419) {D};
\node[font=\letter] at (583,288.5) {E};
\node[font=\letter] at (580.5,195) {F};

% CO2 averages
\begin{scope}[every node/.style={anchor=base west, inner sep=0pt}]
\node[font=\fontsize{10}{12}\selectfont\bfseries] at (482.5,346.5) {[CO\textsubscript{2}] average\ \ values};
\node[font=\fontsize{10}{12}\selectfont] at (485.5,334.85) {Diurnal = 597.2\ \ ppm};
\node[font=\fontsize{10}{12}\selectfont] at (482.5,323.15) {Nocturnal = 507.2 ppm};

% soil temperature averages
\node[font=\fontsize{8.3}{10}\selectfont\bfseries] at (488,246) {T\textsubscript{soil} average\ \ values};
\node[font=\fontsize{8.1}{10}\selectfont] at (489.5,236.85) {Control = 19.3 ºC};
\node[font=\fontsize{8.1}{10}\selectfont] at (489.5,227.85) {Heated = 20.4 ºC};
\node[font=\fontsize{8.1}{10}\selectfont] at (489.5,218.15) {ΔT = 1.1 ºC};

% canopy temperature averages
\node[font=\fontsize{8.3}{10}\selectfont\bfseries] at (505,79.5) {T\textsubscript{canopy} average\ \ values};
\node[font=\fontsize{8.1}{10}\selectfont] at (506.5,70.65) {Control = 17.9 ºC};
\node[font=\fontsize{8.1}{10}\selectfont] at (506.5,61.5) {Heated = 19.7 ºC};
\node[font=\fontsize{8.1}{10}\selectfont] at (506.5,51.85) {ΔT = 1.8 ºC};
\end{scope}
\draw[ctrlsoil, line width=1pt] (476.5,237.85) -- (487.5,237.85);
\draw[heatsoil, line width=1pt] (476.5,230.15) -- (487.5,230.15);
\draw[dtsoil, line width=1pt] (476.5,222.85) -- (487.5,222.85);
\draw[ctrlcan, line width=1pt] (491.5,74) -- (502.5,74);
\draw[heatcan, line width=1pt] (491.5,64.85) -- (502.5,64.85);
\draw[dtcan, line width=1pt] (491.5,55.15) -- (502.5,55.15);
\end{tikzpicture}
\end{document}
